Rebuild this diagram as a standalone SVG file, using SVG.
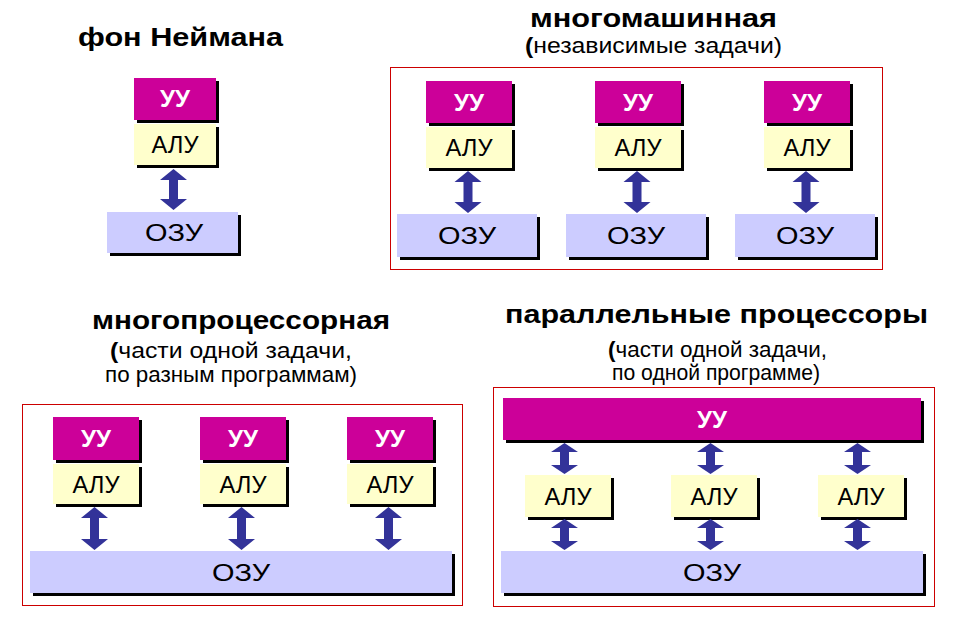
<svg xmlns="http://www.w3.org/2000/svg" width="957" height="621" viewBox="0 0 957 621">
<style>
.uu{fill:#CC0099}
.alu{fill:#FFFFCC}
.ozu{fill:#CCCCFF}
.sh{fill:#000}
.frame{fill:none;stroke:#CC0000;stroke-width:1}
.arr{fill:#333399}
text{font-family:"Liberation Sans",Arial,sans-serif;text-anchor:middle;fill:#000}
.lbl{font-size:23px}
.lw{fill:#fff;font-weight:bold}
.title{font-size:26px;font-weight:bold}
.sub{font-size:22px}
.b{font-weight:bold}
</style>
<rect width="957" height="621" fill="#fff"/>

<!-- titles -->
<g id="titles">
<text class="title" x="180.5" y="46" textLength="205" lengthAdjust="spacingAndGlyphs">фон Неймана</text>
<text class="title" x="653.5" y="27" textLength="247" lengthAdjust="spacingAndGlyphs">многомашинная</text>
<text class="sub" x="653.5" y="53" textLength="257" lengthAdjust="spacingAndGlyphs"><tspan class="b">(</tspan>независимые задачи)</text>
<text class="title" x="241" y="329" textLength="298" lengthAdjust="spacingAndGlyphs">многопроцессорная</text>
<text class="sub" x="231" y="358" textLength="242" lengthAdjust="spacingAndGlyphs"><tspan class="b">(</tspan>части одной задачи,</text>
<text class="sub" x="231" y="382" textLength="252" lengthAdjust="spacingAndGlyphs">по разным программам)</text>
<text class="title" x="716.5" y="323" textLength="423" lengthAdjust="spacingAndGlyphs">параллельные процессоры</text>
<text class="sub" x="717.5" y="357" textLength="219" lengthAdjust="spacingAndGlyphs"><tspan class="b">(</tspan>части одной задачи,</text>
<text class="sub" x="716" y="380" textLength="208" lengthAdjust="spacingAndGlyphs">по одной программе)</text>
</g>

<!-- frames -->
<g id="frames">
<rect class="frame" x="390.5" y="67.5" width="492" height="202"/>
<rect class="frame" x="22.5" y="404.5" width="440" height="201"/>
<rect class="frame" x="493.5" y="387.5" width="441" height="219"/>
</g>

<!-- von Neumann -->
<g id="vn-uu"><rect class="sh" x="137" y="81" width="82" height="42"/><rect class="uu" x="134" y="78" width="82" height="42"/><text class="lbl lw" x="175" y="107" textLength="30" lengthAdjust="spacingAndGlyphs">УУ</text></g>
<g id="vn-alu"><rect class="sh" x="137" y="127" width="82" height="41"/><rect class="alu" x="134" y="124" width="82" height="41"/><text class="lbl" x="175" y="153" textLength="47" lengthAdjust="spacingAndGlyphs">АЛУ</text></g>
<g id="vn-ozu"><rect class="sh" x="110" y="215" width="131" height="41"/><rect class="ozu" x="107" y="212" width="131" height="41"/><text class="lbl" x="174" y="241" textLength="58" lengthAdjust="spacingAndGlyphs">ОЗУ</text></g>

<!-- multimachine -->
<g id="mm-uu1"><rect class="sh" x="429" y="84" width="86" height="42"/><rect class="uu" x="426" y="81" width="86" height="42"/><text class="lbl lw" x="469" y="110.5" textLength="30" lengthAdjust="spacingAndGlyphs">УУ</text></g>
<g id="mm-alu1"><rect class="sh" x="429" y="130" width="86" height="41"/><rect class="alu" x="426" y="127" width="86" height="41"/><text class="lbl" x="469" y="156" textLength="47" lengthAdjust="spacingAndGlyphs">АЛУ</text></g>
<g id="mm-ozu1"><rect class="sh" x="400" y="217" width="140" height="43"/><rect class="ozu" x="397" y="214" width="140" height="43"/><text class="lbl" x="467" y="244" textLength="58" lengthAdjust="spacingAndGlyphs">ОЗУ</text></g>
<g id="mm-uu2"><rect class="sh" x="598" y="84" width="86" height="42"/><rect class="uu" x="595" y="81" width="86" height="42"/><text class="lbl lw" x="638" y="110.5" textLength="30" lengthAdjust="spacingAndGlyphs">УУ</text></g>
<g id="mm-alu2"><rect class="sh" x="598" y="130" width="86" height="41"/><rect class="alu" x="595" y="127" width="86" height="41"/><text class="lbl" x="638" y="156" textLength="47" lengthAdjust="spacingAndGlyphs">АЛУ</text></g>
<g id="mm-ozu2"><rect class="sh" x="569" y="217" width="140" height="43"/><rect class="ozu" x="566" y="214" width="140" height="43"/><text class="lbl" x="636" y="244" textLength="58" lengthAdjust="spacingAndGlyphs">ОЗУ</text></g>
<g id="mm-uu3"><rect class="sh" x="767" y="84" width="86" height="42"/><rect class="uu" x="764" y="81" width="86" height="42"/><text class="lbl lw" x="807" y="110.5" textLength="30" lengthAdjust="spacingAndGlyphs">УУ</text></g>
<g id="mm-alu3"><rect class="sh" x="767" y="130" width="86" height="41"/><rect class="alu" x="764" y="127" width="86" height="41"/><text class="lbl" x="807" y="156" textLength="47" lengthAdjust="spacingAndGlyphs">АЛУ</text></g>
<g id="mm-ozu3"><rect class="sh" x="738" y="217" width="140" height="43"/><rect class="ozu" x="735" y="214" width="140" height="43"/><text class="lbl" x="805" y="244" textLength="58" lengthAdjust="spacingAndGlyphs">ОЗУ</text></g>

<!-- multiprocessor -->
<g id="mp-uu1"><rect class="sh" x="56" y="420" width="86" height="43"/><rect class="uu" x="53" y="417" width="86" height="43"/><text class="lbl lw" x="96" y="447" textLength="30" lengthAdjust="spacingAndGlyphs">УУ</text></g>
<g id="mp-alu1"><rect class="sh" x="56" y="467" width="86" height="40"/><rect class="alu" x="53" y="464" width="86" height="40"/><text class="lbl" x="96" y="492.5" textLength="47" lengthAdjust="spacingAndGlyphs">АЛУ</text></g>
<g id="mp-uu2"><rect class="sh" x="203" y="420" width="86" height="43"/><rect class="uu" x="200" y="417" width="86" height="43"/><text class="lbl lw" x="243" y="447" textLength="30" lengthAdjust="spacingAndGlyphs">УУ</text></g>
<g id="mp-alu2"><rect class="sh" x="203" y="467" width="86" height="40"/><rect class="alu" x="200" y="464" width="86" height="40"/><text class="lbl" x="243" y="492.5" textLength="47" lengthAdjust="spacingAndGlyphs">АЛУ</text></g>
<g id="mp-uu3"><rect class="sh" x="350" y="420" width="86" height="43"/><rect class="uu" x="347" y="417" width="86" height="43"/><text class="lbl lw" x="390" y="447" textLength="30" lengthAdjust="spacingAndGlyphs">УУ</text></g>
<g id="mp-alu3"><rect class="sh" x="350" y="467" width="86" height="40"/><rect class="alu" x="347" y="464" width="86" height="40"/><text class="lbl" x="390" y="492.5" textLength="47" lengthAdjust="spacingAndGlyphs">АЛУ</text></g>
<g id="mp-ozu"><rect class="sh" x="33" y="554" width="422" height="42"/><rect class="ozu" x="30" y="551" width="422" height="42"/><text class="lbl" x="241" y="580.5" textLength="58" lengthAdjust="spacingAndGlyphs">ОЗУ</text></g>

<!-- parallel processors -->
<g id="pp-uu"><rect class="sh" x="506" y="401" width="418" height="42"/><rect class="uu" x="503" y="398" width="418" height="42"/><text class="lbl lw" x="712" y="427.5" textLength="30" lengthAdjust="spacingAndGlyphs">УУ</text></g>
<g id="pp-alu1"><rect class="sh" x="528" y="478" width="86" height="42"/><rect class="alu" x="525" y="475" width="86" height="42"/><text class="lbl" x="568" y="504.5" textLength="47" lengthAdjust="spacingAndGlyphs">АЛУ</text></g>
<g id="pp-alu2"><rect class="sh" x="674" y="478" width="86" height="42"/><rect class="alu" x="671" y="475" width="86" height="42"/><text class="lbl" x="714" y="504.5" textLength="47" lengthAdjust="spacingAndGlyphs">АЛУ</text></g>
<g id="pp-alu3"><rect class="sh" x="821" y="478" width="86" height="42"/><rect class="alu" x="818" y="475" width="86" height="42"/><text class="lbl" x="861" y="504.5" textLength="47" lengthAdjust="spacingAndGlyphs">АЛУ</text></g>
<g id="pp-ozu"><rect class="sh" x="504" y="554" width="422" height="42"/><rect class="ozu" x="501" y="551" width="422" height="42"/><text class="lbl" x="712" y="580.5" textLength="58" lengthAdjust="spacingAndGlyphs">ОЗУ</text></g>

<!-- connectors -->
<g id="connectors" class="arr">
<path d="M173.5,169 L187,180 L178,180 L178,199 L187,199 L173.5,210 L160,199 L169,199 L169,180 L160,180 Z"/>

<path d="M468,171 L481.5,182 L472.5,182 L472.5,202 L481.5,202 L468,213 L454.5,202 L463.5,202 L463.5,182 L454.5,182 Z"/>
<path d="M637,171 L650.5,182 L641.5,182 L641.5,202 L650.5,202 L637,213 L623.5,202 L632.5,202 L632.5,182 L623.5,182 Z"/>
<path d="M806,171 L819.5,182 L810.5,182 L810.5,202 L819.5,202 L806,213 L792.5,202 L801.5,202 L801.5,182 L792.5,182 Z"/>

<path d="M94.5,507 L108,518 L99,518 L99,539 L108,539 L94.5,550 L81,539 L90,539 L90,518 L81,518 Z"/>
<path d="M241.5,507 L255,518 L246,518 L246,539 L255,539 L241.5,550 L228,539 L237,539 L237,518 L228,518 Z"/>
<path d="M388.5,507 L402,518 L393,518 L393,539 L402,539 L388.5,550 L375,539 L384,539 L384,518 L375,518 Z"/>

<path d="M564.5,443 L578,452 L569,452 L569,465 L578,465 L564.5,474 L551,465 L560,465 L560,452 L551,452 Z"/>
<path d="M710.5,443 L724,452 L715,452 L715,465 L724,465 L710.5,474 L697,465 L706,465 L706,452 L697,452 Z"/>
<path d="M857.5,443 L871,452 L862,452 L862,465 L871,465 L857.5,474 L844,465 L853,465 L853,452 L844,452 Z"/>
<path d="M564.5,519 L578,528 L569,528 L569,541 L578,541 L564.5,550 L551,541 L560,541 L560,528 L551,528 Z"/>
<path d="M710.5,519 L724,528 L715,528 L715,541 L724,541 L710.5,550 L697,541 L706,541 L706,528 L697,528 Z"/>
<path d="M857.5,519 L871,528 L862,528 L862,541 L871,541 L857.5,550 L844,541 L853,541 L853,528 L844,528 Z"/>
</g>
</svg>
